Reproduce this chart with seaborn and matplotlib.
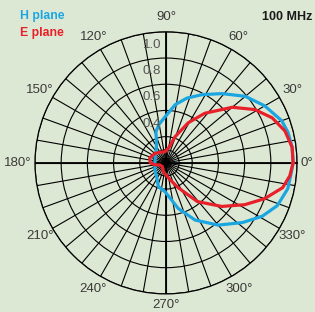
import numpy as np
import pandas as pd
import matplotlib
matplotlib.use("Agg")
import matplotlib.pyplot as plt
import matplotlib.transforms as mtransforms
import seaborn as sns

# values (angle in degrees, relative field strength)
h_angle = [0, 7, 14, 20, 30, 40, 51, 62, 72, 81, 90, 100, 108, 115, 125, 144, 180,
           212, 237, 252, 268, 285, 297, 310, 322, 331, 339, 348, 356, 360]
h_level = [0.97, 0.97, 0.96, 0.94, 0.87, 0.79, 0.68, 0.59, 0.52, 0.45, 0.36, 0.30, 0.25,
           0.17, 0.13, 0.10, 0.085, 0.10, 0.13, 0.19, 0.22, 0.36, 0.49, 0.62, 0.74,
           0.84, 0.91, 0.95, 0.96, 0.97]

e_angle = [0, 7, 15, 23, 31, 40, 52, 61, 71, 79, 95, 115, 138, 163, 180, 190, 198,
           225, 252, 283, 296, 309, 322, 332, 340, 348, 354, 360]
e_level = [0.97, 0.97, 0.94, 0.88, 0.79, 0.66, 0.48, 0.35, 0.21, 0.12, 0.085, 0.09,
           0.11, 0.13, 0.12, 0.085, 0.05, 0.04, 0.07, 0.13, 0.21, 0.38, 0.54, 0.68,
           0.80, 0.91, 0.95, 0.97]

ring_values = [0.1, 0.2, 0.4, 0.6, 0.8, 1.0]
ring_labels = ["1.0", "0.8", "0.6", "0.4"]
angle_labels = list(range(0, 360, 30))

BG = "#dde8d4"
BLUE = "#1ba6e2"
RED = "#e8202a"
TXT = "#3a3a3a"
FONT = ["Liberation Sans Narrow", "Liberation Sans", "DejaVu Sans"]

sns.set_style("white")
plt.rcParams["font.family"] = FONT

df_h = pd.DataFrame({"theta": np.deg2rad(h_angle), "r": h_level})
df_e = pd.DataFrame({"theta": np.deg2rad(e_angle), "r": e_level})

fig = plt.figure(figsize=(3.15, 3.12), dpi=100, facecolor=BG)
ax = fig.add_axes([0.111, 0.058, 0.832, 0.840], projection="polar")
ax.set_facecolor(BG)
ax.set_theta_zero_location("E")
ax.set_ylim(0, 1)

ax.set_xticks(np.deg2rad(np.arange(0, 360, 10)))
ax.set_xticklabels([])
ax.set_yticks(ring_values)
ax.set_yticklabels([])
ax.grid(True, color="black", lw=0.8)
ax.spines["polar"].set_color("black")
ax.spines["polar"].set_linewidth(0.9)

# main axes a bit heavier
for a in [0, 90, 180, 270]:
    ax.plot([np.deg2rad(a)] * 2, [0, 1], color="black", lw=1.3, zorder=2)

sns.lineplot(data=df_h, x="theta", y="r", ax=ax, sort=False, estimator=None,
             color=BLUE, lw=2.3, zorder=3)
sns.lineplot(data=df_e, x="theta", y="r", ax=ax, sort=False, estimator=None,
             color=RED, lw=2.3, zorder=4)
ax.set_xlabel("")
ax.set_ylabel("")

# angle labels outside the ring
for a in angle_labels:
    rr = 1.11
    if a == 0:
        rr = 1.075
    elif a == 180:
        rr = 1.13
    elif a == 270:
        rr = 1.085
    ax.text(np.deg2rad(a), rr, f"{a}°", ha="center", va="center",
            fontsize=9.5, color=TXT, clip_on=False)

# ring labels left of the 90 degree line
shift = mtransforms.offset_copy(ax.transData, fig=fig, x=-5, y=0, units="dots")
for lab in ring_labels:
    v = float(lab)
    ax.text(np.deg2rad(90), v - 0.1, lab, ha="right", va="center",
            fontsize=9.5, color="#555555", transform=shift)

fig.text(20 / 315, 1 - 16 / 312, "H plane", color=BLUE, fontsize=8.8,
         fontweight="bold", ha="left", va="center")
fig.text(20 / 315, 1 - 33 / 312, "E plane", color=RED, fontsize=8.8,
         fontweight="bold", ha="left", va="center")
fig.text(312 / 315, 1 - 17 / 312, "100 MHz", color="#1a1a1a", fontsize=9,
         fontweight="bold", ha="right", va="center")

fig.savefig("out.png", dpi=100, facecolor=BG)
